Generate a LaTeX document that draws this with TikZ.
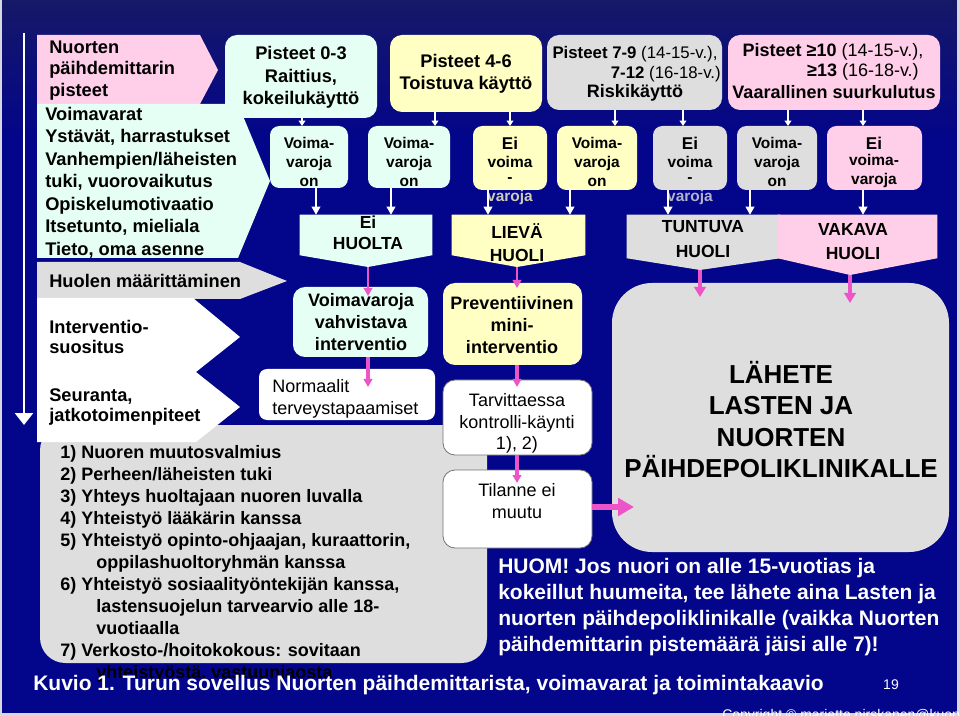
\documentclass[tikz,border=0pt]{standalone}
\usepackage{fontspec}
\setmainfont{Liberation Sans}
\usetikzlibrary{arrows.meta,fit}
\definecolor{navy}{RGB}{3,5,138}
\definecolor{navytop}{RGB}{22,24,104}
\definecolor{mint}{RGB}{230,255,245}
\definecolor{lyel}{RGB}{255,255,196}
\definecolor{lgray}{RGB}{222,222,222}
\definecolor{lpink}{RGB}{255,206,232}
\definecolor{mag}{RGB}{236,84,200}
\definecolor{frame}{RGB}{215,215,225}
\newcommand\fsz[2]{\fontsize{#1}{#2}\selectfont}
\begin{document}
\begin{tikzpicture}[x=0.75pt,y=-0.75pt,
  bx/.style={inner sep=0pt, outer sep=0pt, rounded corners=#1},
  bx/.default=9pt,
  txt/.style={inner sep=0pt, align=center, font=\fsz{13.5pt}{16.5pt}\bfseries},
  ltxt/.style={inner sep=0pt, align=left, anchor=west},
  vtxt/.style={inner sep=0pt, align=center, font=\fsz{11.6pt}{14.25pt}\bfseries},
  eitxt/.style={inner sep=0pt, font=\fsz{12.8pt}{14.25pt}\bfseries},
  htxt/.style={inner sep=0pt, align=center, font=\fsz{13.1pt}{17pt}\bfseries},
  rtxt/.style={inner sep=0pt, align=center, font=\fsz{13.5pt}{16.5pt}},
  wline/.style={draw=white, line width=1.1pt, -{Triangle[length=4pt,width=5pt]}},
  warr/.style={draw=white, line width=1.1pt, -{Triangle[length=6pt,width=6.5pt]}},
  parr/.style={draw=mag, line width=#1, -{Triangle[length=6pt,width=6.5pt]}},
  parrb/.style={draw=mag, line width=#1, -{Triangle[length=7.5pt,width=8.5pt]}},
]
\useasboundingbox (0,0) rectangle (960,716);
% background
\fill[navy] (0,0) rectangle (960,716);
\shade[top color=navytop, bottom color=navy] (0,0) rectangle (960,140);
\draw[frame, line width=1.6pt] (1,-5) -- (1,714.5) -- (958.5,714.5) -- (958.5,-5);

% left white arrow
\coordinate (la1) at (24,33);
\coordinate (la2) at (24,425);
\draw[white, line width=2pt, -{Triangle[length=9pt,width=13.5pt]}] (la1) -- (la2);

% left panel shapes
\fill[lpink] (37,35) -- (200,35) -- (218,70) -- (200,104) -- (37,104) -- cycle;
\fill[mint] (37,104) -- (238,104) -- (270,181) -- (238,258) -- (37,258) -- cycle;
\fill[lgray] (37,262) -- (240,262) -- (287,281) -- (240,299) -- (37,299) -- cycle;
\fill[lgray, rounded corners=19pt] (40,425) rectangle (487,663);
\fill[white] (37,298) -- (193,298) -- (240,337) -- (196,372) -- (240,407) -- (196,442) -- (37,442) -- cycle;

\node[ltxt, font=\fsz{13.7pt}{16.1pt}\bfseries] (lt1) at (49,70.5) {Nuorten\\päihdemittarin\\pisteet};
\node[ltxt, font=\fsz{13.7pt}{16.9pt}\bfseries] (lt2) at (45,182.5) {Voimavarat\\Ystävät, harrastukset\\Vanhempien/läheisten\\tuki, vuorovaikutus\\Opiskelumotivaatio\\Itsetunto, mieliala\\Tieto, oma asenne};
\node[ltxt, font=\fsz{13.7pt}{16pt}\bfseries] (lt3) at (49,281) {Huolen määrittäminen};
\node[ltxt, font=\fsz{13.7pt}{15.4pt}\bfseries] (lt4) at (49,337) {Interventio-\\suositus};
\node[ltxt, font=\fsz{13.7pt}{15.4pt}\bfseries] (lt5) at (49,407) {Seuranta,\\jatkotoimenpiteet};

% list
\node[ltxt, font=\fsz{13.5pt}{16.5pt}\bfseries] (lst) at (60,564) {1) Nuoren muutosvalmius\\2) Perheen/läheisten tuki\\3) Yhteys huoltajaan nuoren luvalla\\4) Yhteistyö lääkärin kanssa\\5) Yhteistyö opinto-ohjaajan, kuraattorin,\\\hspace*{27pt}oppilashuoltoryhmän kanssa\\6) Yhteistyö sosiaalityöntekijän kanssa,\\\hspace*{27pt}lastensuojelun tarvearvio alle 18-\\\hspace*{27pt}vuotiaalla\\7) Verkosto-/hoitokokous: sovitaan\\\hspace*{27pt}yhteistyöstä, vastuunjaosta};

% top row boxes
\node[bx, fill=mint, fit={(225,35)(377,118)}] (p03) {};
\node[bx, fill=lyel, fit={(390,35)(542,112)}] (p46) {};
\node[bx, fill=lgray, fit={(547,35)(722,110)}] (p79) {};
\node[bx, fill=lpink, fit={(728,35)(940,110)}] (p10) {};
\node[txt, font=\fsz{13.7pt}{16.9pt}\bfseries] (t03) at (301,77.5) {Pisteet 0-3\\Raittius,\\kokeilukäyttö};
\node[txt, font=\fsz{13.7pt}{16.5pt}\bfseries] (t46) at (466,74) {Pisteet 4-6\\Toistuva käyttö};
\node[txt, font=\fsz{12.6pt}{14pt}\bfseries] (t79a) at (635,54) {Pisteet 7-9 \mdseries(14-15-v.),};
\node[txt, font=\fsz{12.6pt}{14pt}\bfseries, anchor=east] (t79b) at (721,74) {7-12 \mdseries(16-18-v.)};
\node[txt, font=\fsz{13.5pt}{14pt}\bfseries] (t79c) at (635,93) {Riskikäyttö};
\node[txt, font=\fsz{13.5pt}{14pt}\bfseries] (t10a) at (833,52) {Pisteet ≥10 \mdseries(14-15-v.),};
\node[txt, font=\fsz{13.5pt}{14pt}\bfseries, anchor=east] (t10b) at (919,72) {≥13 \mdseries(16-18-v.)};
\node[txt, font=\fsz{13.5pt}{14pt}\bfseries] (t10c) at (834,92) {Vaarallinen suurkulutus};

% second row boxes
\node[bx=7pt, fill=mint, fit={(270,126)(348,188)}] (v1) {};
\node[bx=7pt, fill=mint, fit={(368,126)(450,188)}] (v2) {};
\node[bx=7pt, fill=lyel, fit={(473,126)(547,190)}] (v3) {};
\node[bx=7pt, fill=lyel, fit={(557,126)(637,190)}] (v4) {};
\node[bx=7pt, fill=lgray, fit={(653,126)(727,190)}] (v5) {};
\node[bx=7pt, fill=lgray, fit={(737,126)(817,190)}] (v6) {};
\node[bx=7pt, fill=lpink, fit={(827,126)(922,190)}] (v7) {};
\node[vtxt] (tv1) at (309,161.5) {Voima-\\varoja\\on};
\node[vtxt] (tv2) at (409,161.5) {Voima-\\varoja\\on};
\node[eitxt] (tv3a) at (510,143) {Ei};
\node[vtxt] (tv3b) at (510,162) {voima};
\node[vtxt] (tv3c) at (510,180) {-};
\node[vtxt, text=lyel!80!navy] (tv3d) at (510,198) {varoja};
\node[vtxt] (tv4) at (597,161.5) {Voima-\\varoja\\on};
\node[eitxt] (tv5a) at (690,143) {Ei};
\node[vtxt] (tv5b) at (690,162) {voima};
\node[vtxt] (tv5c) at (690,180) {-};
\node[vtxt, text=lgray!80!navy] (tv5d) at (690,198) {varoja};
\node[vtxt] (tv6) at (777,161.5) {Voima-\\varoja\\on};
\node[eitxt] (tv7a) at (874,143) {Ei};
\node[vtxt] (tv7b) at (874,171.5) {voima-\\varoja};

% third row pentagons
\node[inner sep=0pt, fit={(300,215)(432,255)}] (h1) {};
\node[inner sep=0pt, fit={(452,215)(585,255)}] (h2) {};
\node[inner sep=0pt, fit={(627,215)(780,258)}] (h3) {};
\node[inner sep=0pt, fit={(778,215)(937,258)}] (h4) {};
\coordinate (h1t) at (368,267);
\coordinate (h2t) at (517,267);
\coordinate (h3t) at (700,270);
\coordinate (h4t) at (850,275);
\fill[mint] (h1.north west) -- (h1.north east) -- (h1.south east) -- (h1t) -- (h1.south west) -- cycle;
\fill[lyel] (h2.north west) -- (h2.north east) -- (h2.south east) -- (h2t) -- (h2.south west) -- cycle;
\fill[lgray] (h3.north west) -- (h3.north east) -- (h3.south east) -- (h3t) -- (h3.south west) -- cycle;
\fill[lpink] (h4.north west) -- (h4.north east) -- (h4.south east) -- (h4t) -- (h4.south west) -- cycle;
\node[htxt, font=\fsz{13.1pt}{15.8pt}\bfseries] (th1) at (368,232.5) {Ei\\HUOLTA};
\node[htxt, font=\fsz{13.1pt}{17.2pt}\bfseries] (th2) at (517,242.5) {LIEVÄ\\HUOLI};
\node[htxt, font=\fsz{13.1pt}{18.7pt}\bfseries] (th3) at (703,239.5) {TUNTUVA\\HUOLI};
\node[htxt, font=\fsz{13.1pt}{18pt}\bfseries] (th4) at (853,242) {VAKAVA\\HUOLI};

% white connectors
\coordinate (c302) at (302,0);
\coordinate (c316) at (316,0);
\coordinate (c435) at (435,0);
\coordinate (c391) at (391,0);
\coordinate (c510) at (510,0);
\coordinate (c488) at (488,0);
\coordinate (c615) at (615,0);
\coordinate (c570) at (570,0);
\coordinate (c683) at (683,0);
\coordinate (c668) at (668,0);
\coordinate (c788) at (788,0);
\coordinate (c750) at (750,0);
\coordinate (c863) at (863,0);
\draw[wline] (p03.south -| c302) -- (v1.north -| c302);
\draw[wline] (p46.south -| c435) -- (v2.north -| c435);
\draw[wline] (p46.south -| c510) -- (v3.north -| c510);
\draw[wline] (p79.south -| c615) -- (v4.north -| c615);
\draw[wline] (p79.south -| c683) -- (v5.north -| c683);
\draw[wline] (p10.south -| c788) -- (v6.north -| c788);
\draw[wline] (p10.south -| c863) -- (v7.north -| c863);
\draw[warr] (v1.south -| c316) -- (h1.north -| c316);
\draw[warr] (v2.south -| c391) -- (h1.north -| c391);
\draw[warr] (v3.south -| c488) -- (h2.north -| c488);
\draw[warr] (v4.south -| c570) -- (h2.north -| c570);
\draw[warr] (v5.south -| c668) -- (h3.north -| c668);
\draw[warr] (v6.south -| c750) -- (h3.north -| c750);
\draw[warr] (v7.south -| c863) -- (h4.north -| c863);

% fourth row
\node[bx=9pt, fill=mint, fit={(293,287)(428,357)}] (vv) {};
\node[bx=9pt, fill=lyel, fit={(443,283)(582,365)}] (pr) {};
\node[bx=30pt, fill=lgray, fit={(612,283)(949,552)}] (la) {};
\node[bx=6pt, fill=white, fit={(259,369)(435,420)}] (nm) {};
\node[bx=9pt, fill=white, draw=black!55, line width=0.6pt, fit={(443,380)(592,455)}] (ta) {};
\node[bx=9pt, fill=white, draw=black!55, line width=0.6pt, fit={(443,470)(592,548)}] (ti) {};
\node[txt] (tvv) at (361,322.5) {Voimavaroja\\vahvistava\\interventio};
\node[txt] (tpr) at (512,325) {Preventiivinen\\mini-\\interventio};
\node[rtxt, align=left, anchor=west] (tnm) at (272,399) {Normaalit\\terveystapaamiset};
\node[rtxt, font=\fsz{13.5pt}{16.1pt}] (tta) at (517,423.5) {Tarvittaessa\\kontrolli-käynti\\1), 2)};
\node[rtxt] (tti) at (517,501) {Tilanne ei\\muutu};
\node[txt, font=\fsz{19.5pt}{23.6pt}\bfseries] (tla) at (781,419.5) {LÄHETE\\LASTEN JA\\NUORTEN\\PÄIHDEPOLIKLINIKALLE};

% pink connectors
\coordinate (vvin) at (368,296);
\coordinate (nmin) at (368,387);
\coordinate (prin) at (517,288);
\coordinate (tain) at (517,387);
\coordinate (tiin) at (517,483);
\coordinate (laa) at (634,507);
\coordinate (la3) at (700,297);
\coordinate (la4) at (850,303);
\draw[parr=1.4pt] (h1t) -- (vvin);
\draw[parr=2.3pt] (vv.south -| vvin) -- (nmin);
\draw[parr=1.4pt] (h2t) -- (prin);
\draw[parr=2.3pt] (pr.south -| prin) -- (tain);
\draw[parr=2.3pt] (ta.south -| prin) -- (tiin);
\draw[parrb=2.8pt] (h3t) -- (la3);
\draw[parrb=2.8pt] (h4t) -- (la4);
\draw[draw=mag, line width=5pt, -{Triangle[length=12pt,width=13pt]}] (ti.east |- laa) -- (laa);

% notes and caption
\node[ltxt, text=white, font=\fsz{15.75pt}{19.3pt}\bfseries] (huom) at (498,607) {HUOM! Jos nuori on alle 15-vuotias ja\\kokeillut huumeita, tee lähete aina Lasten ja\\nuorten päihdepoliklinikalle (vaikka Nuorten\\päihdemittarin pistemäärä jäisi alle 7)!};
\node[ltxt, text=white, font=\fsz{15.75pt}{18pt}\bfseries] (cap) at (33,685) {Kuvio 1. Turun sovellus Nuorten päihdemittarista, voimavarat ja toimintakaavio};
\node[inner sep=0pt, text=white, font=\fsz{10.5pt}{12pt}] (pg) at (891,685) {19};
\node[inner sep=0pt, anchor=north west, text=white, font=\fsz{10.5pt}{12pt}] (cpy) at (722,709) {Copyright © mariette.pirskanen@kuopio.fi};
\end{tikzpicture}
\end{document}
